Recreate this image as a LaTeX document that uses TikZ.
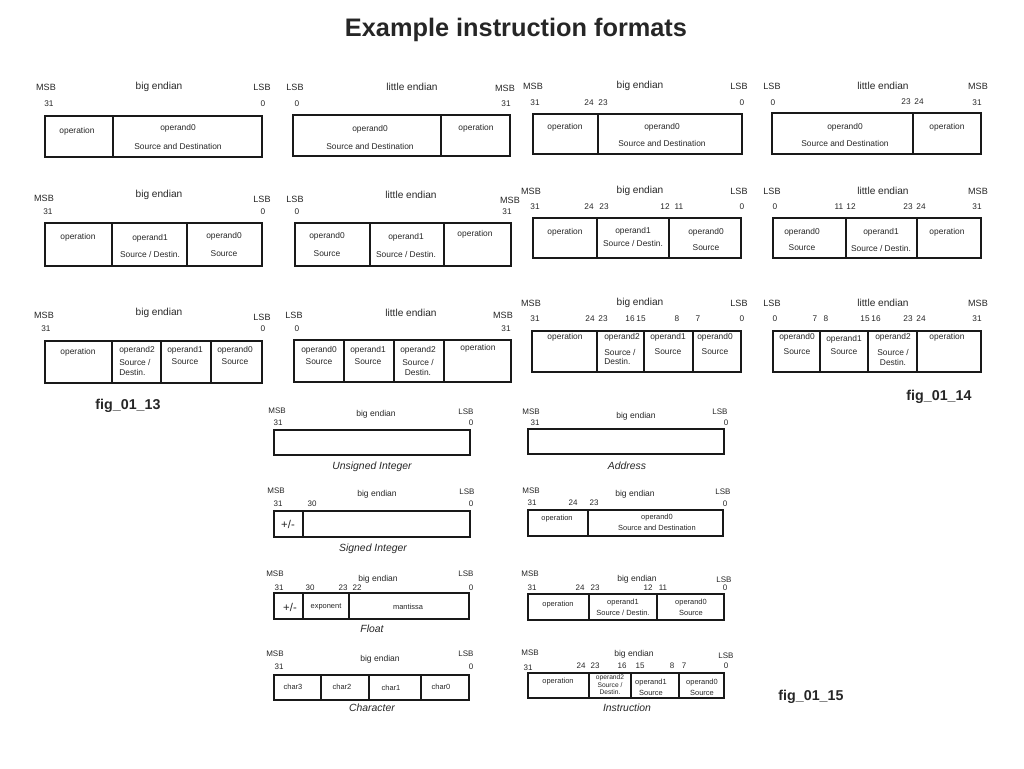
\documentclass[tikz,border=0pt]{standalone}
\usepackage{fontspec}
\setmainfont{Liberation Sans}
\begin{document}
\begin{tikzpicture}[x=0.75pt,y=-0.75pt,
  every node/.style={inner sep=0pt, text=black!85},
  hd/.style={font=\fontsize{6.8}{8}\selectfont},
  en/.style={font=\fontsize{7.6}{9}\selectfont},
  bit/.style={font=\fontsize{6.2}{7}\selectfont},
  fld/.style={font=\fontsize{6.3}{7}\selectfont},
  box/.style={line width=1.1pt, black!90},
  shd/.style={font=\fontsize{6}{7}\selectfont},
  sen/.style={font=\fontsize{6.4}{7}\selectfont},
  sbit/.style={font=\fontsize{6}{7}\selectfont},
  sfld/.style={font=\fontsize{5.6}{6}\selectfont},
  tfld/.style={font=\fontsize{5}{6}\selectfont},
  sbox/.style={line width=0.9pt, black!90},
  capt/.style={font=\fontsize{7.8}{9}\selectfont\itshape},
  figlbl/.style={font=\fontsize{10.7}{12}\selectfont\bfseries}]

\useasboundingbox (0,0) rectangle (1024,768);

% Title
\node[font=\fontsize{19}{22}\selectfont\bfseries] (title) at (516,30) {Example instruction formats};

% fig_01_13, row 1

\draw[box] (45,116) rectangle (262,157);
\draw[box] (113,116) -- (113,157);
\node[hd] (a1msb) at (46,87) {MSB};
\node[en] (a1end) at (159,87) {big endian};
\node[hd] (a1lsb) at (262,87) {LSB};
\node[bit] (a1b31) at (49,104) {31};
\node[bit] (a1b0) at (263,104) {0};
\node[fld] (a1op) at (77,131) {operation};
\node[fld] (a1o0) at (178,128) {operand0};
\node[fld] (a1o0s) at (178,146) {Source and Destination};

\draw[box] (293,115) rectangle (510,156);
\draw[box] (441,115) -- (441,156);
\node[hd] (a2lsb) at (295,87) {LSB};
\node[en] (a2end) at (412,87) {little endian};
\node[hd] (a2msb) at (505,88) {MSB};
\node[bit] (a2b0) at (297,104) {0};
\node[bit] (a2b31) at (506,104) {31};
\node[fld] (a2o0) at (370,129) {operand0};
\node[fld] (a2o0s) at (370,146) {Source and Destination};
\node[fld] (a2op) at (476,128) {operation};

% fig_01_13, row 2

\draw[box] (45,223) rectangle (262,266);
\draw[box] (112,223) -- (112,266) (187,223) -- (187,266);
\node[hd] (b1msb) at (44,198) {MSB};
\node[en] (b1end) at (159,195) {big endian};
\node[hd] (b1lsb) at (262,199) {LSB};
\node[bit] (b1b31) at (48,212) {31};
\node[bit] (b1b0) at (263,212) {0};
\node[fld] (b1op) at (78,237) {operation};
\node[fld] (b1o1) at (150,238) {operand1};
\node[fld] (b1o1s) at (150,254) {Source / Destin.};
\node[fld] (b1o0) at (224,236) {operand0};
\node[fld] (b1o0s) at (224,254) {Source};

\draw[box] (295,223) rectangle (511,266);
\draw[box] (370,223) -- (370,266) (444,223) -- (444,266);
\node[hd] (b2lsb) at (295,199) {LSB};
\node[en] (b2end) at (411,195) {little endian};
\node[hd] (b2msb) at (510,200) {MSB};
\node[bit] (b2b0) at (297,212) {0};
\node[bit] (b2b31) at (507,212) {31};
\node[fld] (b2o0) at (327,236) {operand0};
\node[fld] (b2o0s) at (327,254) {Source};
\node[fld] (b2o1) at (406,237) {operand1};
\node[fld] (b2o1s) at (406,254) {Source / Destin.};
\node[fld] (b2op) at (475,234) {operation};

% fig_01_13, row 3

\draw[box] (45,341) rectangle (262,383);
\draw[box] (112,341) -- (112,383) (161,341) -- (161,383) (211,341) -- (211,383);
\node[hd] (d1msb) at (44,315) {MSB};
\node[en] (d1end) at (159,313) {big endian};
\node[hd] (d1lsb) at (262,317) {LSB};
\node[bit] (d1b31) at (46,329) {31};
\node[bit] (d1b0) at (263,329) {0};
\node[fld] (d1op) at (78,352) {operation};
\node[fld, anchor=west] (d1o2) at (119,350) {operand2};
\node[fld, anchor=west] (d1o2s) at (119,362) {Source /};
\node[fld, anchor=west] (d1o2d) at (119,372) {Destin.};
\node[fld] (d1o1) at (185,350) {operand1};
\node[fld] (d1o1s) at (185,362) {Source};
\node[fld] (d1o0) at (235,350) {operand0};
\node[fld] (d1o0s) at (235,362) {Source};

\draw[box] (294,340) rectangle (511,382);
\draw[box] (344,340) -- (344,382) (394,340) -- (394,382) (444,340) -- (444,382);
\node[hd] (d2lsb) at (294,315) {LSB};
\node[en] (d2end) at (411,313) {little endian};
\node[hd] (d2msb) at (503,315) {MSB};
\node[bit] (d2b0) at (297,329) {0};
\node[bit] (d2b31) at (506,329) {31};
\node[fld] (d2o0) at (319,350) {operand0};
\node[fld] (d2o0s) at (319,362) {Source};
\node[fld] (d2o1) at (368,350) {operand1};
\node[fld] (d2o1s) at (368,362) {Source};
\node[fld] (d2o2) at (418,350) {operand2};
\node[fld] (d2o2s) at (418,362) {Source /};
\node[fld] (d2o2d) at (418,372) {Destin.};
\node[fld] (d2op) at (478,348) {operation};

\node[figlbl] (fig13) at (128,406) {fig\_01\_13};

% fig_01_14, row 1

\draw[box] (533,114) rectangle (742,154);
\draw[box] (598,114) -- (598,154);
\node[hd] (c1msb) at (533,86) {MSB};
\node[en] (c1end) at (640,86) {big endian};
\node[hd] (c1lsb) at (739,86) {LSB};
\node[bit] (c1b31) at (535,103) {31};
\node[bit] (c1b24) at (589,103) {24};
\node[bit] (c1b23) at (603,103) {23};
\node[bit] (c1b0) at (742,103) {0};
\node[fld] (c1op) at (565,127) {operation};
\node[fld] (c1o0) at (662,127) {operand0};
\node[fld] (c1o0s) at (662,143) {Source and Destination};

\draw[box] (772,113) rectangle (981,154);
\draw[box] (913,113) -- (913,154);
\node[hd] (c2lsb) at (772,86) {LSB};
\node[en] (c2end) at (883,86) {little endian};
\node[hd] (c2msb) at (978,86) {MSB};
\node[bit] (c2b0) at (773,103) {0};
\node[bit] (c2b23) at (906,102) {23};
\node[bit] (c2b24) at (919,102) {24};
\node[bit] (c2b31) at (977,103) {31};
\node[fld] (c2o0) at (845,127) {operand0};
\node[fld] (c2o0s) at (845,143) {Source and Destination};
\node[fld] (c2op) at (947,127) {operation};

% fig_01_14, row 2

\draw[box] (533,218) rectangle (741,258);
\draw[box] (597,218) -- (597,258) (669,218) -- (669,258);
\node[hd] (c3msb) at (531,191) {MSB};
\node[en] (c3end) at (640,191) {big endian};
\node[hd] (c3lsb) at (739,191) {LSB};
\node[bit] (c3b31) at (535,207) {31};
\node[bit] (c3b24) at (589,207) {24};
\node[bit] (c3b23) at (604,207) {23};
\node[bit] (c3b12) at (665,207) {12};
\node[bit] (c3b11) at (679,207) {11};
\node[bit] (c3b0) at (742,207) {0};
\node[fld] (c3op) at (565,232) {operation};
\node[fld] (c3o1) at (633,231) {operand1};
\node[fld] (c3o1s) at (633,243) {Source / Destin.};
\node[fld] (c3o0) at (706,232) {operand0};
\node[fld] (c3o0s) at (706,248) {Source};

\draw[box] (773,218) rectangle (981,258);
\draw[box] (846,218) -- (846,258) (917,218) -- (917,258);
\node[hd] (c4lsb) at (772,191) {LSB};
\node[en] (c4end) at (883,191) {little endian};
\node[hd] (c4msb) at (978,191) {MSB};
\node[bit] (c4b0) at (775,207) {0};
\node[bit] (c4b11) at (839,207) {11};
\node[bit] (c4b12) at (851,207) {12};
\node[bit] (c4b23) at (908,207) {23};
\node[bit] (c4b24) at (921,207) {24};
\node[bit] (c4b31) at (977,207) {31};
\node[fld] (c4o0) at (802,232) {operand0};
\node[fld] (c4o0s) at (802,248) {Source};
\node[fld] (c4o1) at (881,232) {operand1};
\node[fld] (c4o1s) at (881,248) {Source / Destin.};
\node[fld] (c4op) at (947,232) {operation};

% fig_01_14, row 3

\draw[box] (532,331) rectangle (741,372);
\draw[box] (597,331) -- (597,372) (644,331) -- (644,372) (693,331) -- (693,372);
\node[hd] (e1msb) at (531,303) {MSB};
\node[en] (e1end) at (640,303) {big endian};
\node[hd] (e1lsb) at (739,303) {LSB};
\node[bit] (e1b31) at (535,319) {31};
\node[bit] (e1b24) at (590,319) {24};
\node[bit] (e1b23) at (603,319) {23};
\node[bit] (e1b16) at (630,319) {16};
\node[bit] (e1b15) at (641,319) {15};
\node[bit] (e1b8) at (677,319) {8};
\node[bit] (e1b7) at (698,319) {7};
\node[bit] (e1b0) at (742,319) {0};
\node[fld] (e1op) at (565,337) {operation};
\node[fld, anchor=west] (e1o2) at (604,337) {operand2};
\node[fld, anchor=west] (e1o2s) at (604,352) {Source /};
\node[fld, anchor=west] (e1o2d) at (604,361) {Destin.};
\node[fld] (e1o1) at (668,337) {operand1};
\node[fld] (e1o1s) at (668,352) {Source};
\node[fld] (e1o0) at (715,337) {operand0};
\node[fld] (e1o0s) at (715,352) {Source};

\draw[box] (773,331) rectangle (981,372);
\draw[box] (820,331) -- (820,372) (868,331) -- (868,372) (917,331) -- (917,372);
\node[hd] (e2lsb) at (772,303) {LSB};
\node[en] (e2end) at (883,303) {little endian};
\node[hd] (e2msb) at (978,303) {MSB};
\node[bit] (e2b0) at (775,319) {0};
\node[bit] (e2b7) at (815,319) {7};
\node[bit] (e2b8) at (826,319) {8};
\node[bit] (e2b15) at (865,319) {15};
\node[bit] (e2b16) at (876,319) {16};
\node[bit] (e2b23) at (908,319) {23};
\node[bit] (e2b24) at (921,319) {24};
\node[bit] (e2b31) at (977,319) {31};
\node[fld] (e2o0) at (797,337) {operand0};
\node[fld] (e2o0s) at (797,352) {Source};
\node[fld] (e2o1) at (844,339) {operand1};
\node[fld] (e2o1s) at (844,352) {Source};
\node[fld] (e2o2) at (893,337) {operand2};
\node[fld] (e2o2s) at (893,352) {Source /};
\node[fld] (e2o2d) at (893,362) {Destin.};
\node[fld] (e2op) at (947,337) {operation};

\node[figlbl] (fig14) at (939,397) {fig\_01\_14};

% fig_01_15, left column

\draw[sbox] (274,430) rectangle (470,455);
\node[shd] (f1msb) at (277,411) {MSB};
\node[sen] (f1end) at (376,414) {big endian};
\node[shd] (f1lsb) at (466,412) {LSB};
\node[sbit] (f1b31) at (278,423) {31};
\node[sbit] (f1b0) at (471,423) {0};
\node[capt] (f1cap) at (372,467) {Unsigned Integer};

\draw[sbox] (274,511) rectangle (470,537);
\draw[sbox] (303,511) -- (303,537);
\node[shd] (f3msb) at (276,491) {MSB};
\node[sen] (f3end) at (377,494) {big endian};
\node[shd] (f3lsb) at (467,492) {LSB};
\node[sbit] (f3b31) at (278,504) {31};
\node[sbit] (f3b30) at (312,504) {30};
\node[sbit] (f3b0) at (471,504) {0};
\node[font=\fontsize{8.5}{9}\selectfont] (f3sgn) at (288,524) {+/-};
\node[capt] (f3cap) at (373,549) {Signed Integer};

\draw[sbox] (274,593) rectangle (469,619);
\draw[sbox] (303,593) -- (303,619) (349,593) -- (349,619);
\node[shd] (f5msb) at (275,574) {MSB};
\node[sen] (f5end) at (378,579) {big endian};
\node[shd] (f5lsb) at (466,574) {LSB};
\node[sbit] (f5b31) at (279,588) {31};
\node[sbit] (f5b30) at (310,588) {30};
\node[sbit] (f5b23) at (343,588) {23};
\node[sbit] (f5b22) at (357,588) {22};
\node[sbit] (f5b0) at (471,588) {0};
\node[font=\fontsize{8.5}{9}\selectfont] (f5sgn) at (290,607) {+/-};
\node[sfld] (f5exp) at (326,607) {exponent};
\node[sfld] (f5man) at (408,607) {mantissa};
\node[capt] (f5cap) at (372,629) {Float};

\draw[sbox] (274,675) rectangle (469,700);
\draw[sbox] (321,675) -- (321,700) (369,675) -- (369,700) (421,675) -- (421,700);
\node[shd] (f7msb) at (275,654) {MSB};
\node[sen] (f7end) at (380,659) {big endian};
\node[shd] (f7lsb) at (466,654) {LSB};
\node[sbit] (f7b31) at (279,667) {31};
\node[sbit] (f7b0) at (471,667) {0};
\node[sfld] (f7c3) at (293,687) {char3};
\node[sfld] (f7c2) at (342,687) {char2};
\node[sfld] (f7c1) at (391,688) {char1};
\node[sfld] (f7c0) at (441,687) {char0};
\node[capt] (f7cap) at (372,708) {Character};

% fig_01_15, right column

\draw[sbox] (528,429) rectangle (724,454);
\node[shd] (f2msb) at (531,412) {MSB};
\node[sen] (f2end) at (636,416) {big endian};
\node[shd] (f2lsb) at (720,412) {LSB};
\node[sbit] (f2b31) at (535,423) {31};
\node[sbit] (f2b0) at (726,423) {0};
\node[capt] (f2cap) at (627,466) {Address};

\draw[sbox] (528,510) rectangle (723,536);
\draw[sbox] (588,510) -- (588,536);
\node[shd] (f4msb) at (531,491) {MSB};
\node[sen] (f4end) at (635,494) {big endian};
\node[shd] (f4lsb) at (723,492) {LSB};
\node[sbit] (f4b31) at (532,503) {31};
\node[sbit] (f4b24) at (573,503) {24};
\node[sbit] (f4b23) at (594,503) {23};
\node[sbit] (f4b0) at (725,504) {0};
\node[sfld] (f4op) at (557,519) {operation};
\node[sfld] (f4o0) at (657,518) {operand0};
\node[sfld] (f4o0s) at (657,528) {Source and Destination};

\draw[sbox] (528,594) rectangle (724,620);
\draw[sbox] (589,594) -- (589,620) (657,594) -- (657,620);
\node[shd] (f6msb) at (530,574) {MSB};
\node[sen] (f6end) at (637,579) {big endian};
\node[shd] (f6lsb) at (724,580) {LSB};
\node[sbit] (f6b31) at (532,588) {31};
\node[sbit] (f6b24) at (580,588) {24};
\node[sbit] (f6b23) at (595,588) {23};
\node[sbit] (f6b12) at (648,588) {12};
\node[sbit] (f6b11) at (663,588) {11};
\node[sbit] (f6b0) at (725,588) {0};
\node[sfld] (f6op) at (558,605) {operation};
\node[sfld] (f6o1) at (623,603) {operand1};
\node[sfld] (f6o1s) at (623,613) {Source / Destin.};
\node[sfld] (f6o0) at (691,603) {operand0};
\node[sfld] (f6o0s) at (691,613) {Source};

\draw[sbox] (528,673) rectangle (724,698);
\draw[sbox] (589,673) -- (589,698) (631,673) -- (631,698) (679,673) -- (679,698);
\node[shd] (f8msb) at (530,653) {MSB};
\node[sen] (f8end) at (634,654) {big endian};
\node[shd] (f8lsb) at (726,656) {LSB};
\node[sbit] (f8b31) at (528,668) {31};
\node[sbit] (f8b24) at (581,666) {24};
\node[sbit] (f8b23) at (595,666) {23};
\node[sbit] (f8b16) at (622,666) {16};
\node[sbit] (f8b15) at (640,666) {15};
\node[sbit] (f8b8) at (672,666) {8};
\node[sbit] (f8b7) at (684,666) {7};
\node[sbit] (f8b0) at (726,666) {0};
\node[sfld] (f8op) at (558,682) {operation};
\node[tfld] (f8o2) at (610,678) {operand2};
\node[tfld] (f8o2s) at (610,685) {Source /};
\node[tfld] (f8o2d) at (610,692) {Destin.};
\node[sfld] (f8o1) at (651,683) {operand1};
\node[sfld] (f8o1s) at (651,693) {Source};
\node[sfld] (f8o0) at (702,683) {operand0};
\node[sfld] (f8o0s) at (702,693) {Source};
\node[capt] (f8cap) at (627,708) {Instruction};

\node[figlbl] (fig15) at (811,697) {fig\_01\_15};

\end{tikzpicture}
\end{document}
